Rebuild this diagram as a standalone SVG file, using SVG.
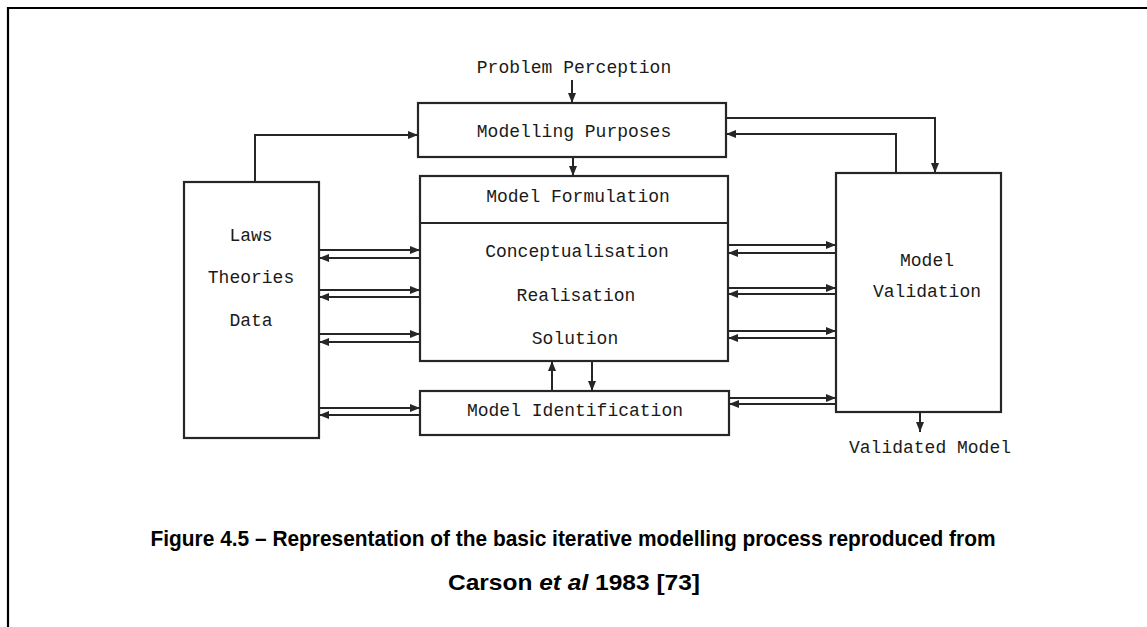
<svg xmlns="http://www.w3.org/2000/svg" width="1147" height="627" viewBox="0 0 1147 627">
  <defs>
    <marker id="arrow" markerUnits="userSpaceOnUse" markerWidth="11" markerHeight="9" refX="10" refY="4" orient="auto">
      <path d="M0,0 L10,4 L0,8 z" fill="#262626"/>
    </marker>
    <style>
      .box { fill: #ffffff; stroke: #262626; stroke-width: 2.2; }
      .line { fill: none; stroke: #262626; stroke-width: 2; }
      .arr { fill: none; stroke: #262626; stroke-width: 2; marker-end: url(#arrow); }
      .lbl { font-family: "Liberation Mono", "Courier New", monospace; font-size: 18px; fill: #1a1a1a; text-anchor: middle; dominant-baseline: central; }
      .cap { font-family: "Liberation Sans", Arial, sans-serif; font-weight: bold; font-size: 22px; fill: #000000; text-anchor: middle; }
    </style>
  </defs>

  <rect width="1147" height="627" fill="#ffffff"/>

  <!-- page frame -->
  <path d="M8,627 V8 H1147" fill="none" stroke="#000000" stroke-width="2.2"/>

  <!-- input label -->
  <text class="lbl" x="574" y="68">Problem Perception</text>

  <g id="modelling-purposes">
    <rect class="box" x="418" y="103" width="308" height="54"/>
    <text class="lbl" x="574" y="132">Modelling Purposes</text>
  </g>

  <g id="laws-theories-data">
    <rect class="box" x="184" y="182" width="135" height="256"/>
    <text class="lbl" x="251" y="236">Laws</text>
    <text class="lbl" x="251" y="278">Theories</text>
    <text class="lbl" x="251" y="321">Data</text>
  </g>

  <g id="model-formulation">
    <rect class="box" x="420" y="176" width="308" height="185"/>
    <line class="line" x1="420" y1="223" x2="728" y2="223"/>
    <text class="lbl" x="578" y="197">Model Formulation</text>
    <text class="lbl" x="577" y="252">Conceptualisation</text>
    <text class="lbl" x="576" y="296">Realisation</text>
    <text class="lbl" x="575" y="339">Solution</text>
  </g>

  <g id="model-identification">
    <rect class="box" x="420" y="391" width="309" height="44"/>
    <text class="lbl" x="575" y="411">Model Identification</text>
  </g>

  <g id="model-validation">
    <rect class="box" x="836" y="173" width="165" height="239"/>
    <text class="lbl" x="927" y="261">Model</text>
    <text class="lbl" x="927" y="292">Validation</text>
  </g>

  <!-- output label -->
  <text class="lbl" x="930" y="448">Validated Model</text>

  <g id="connectors">
    <!-- problem perception into purposes -->
    <line class="arr" x1="572" y1="80" x2="572" y2="103"/>
    <!-- purposes into formulation -->
    <line class="arr" x1="573" y1="157" x2="573" y2="176"/>
    <!-- laws back up to purposes -->
    <polyline class="arr" points="255,182 255,135 418,135"/>
    <!-- purposes to validation -->
    <polyline class="arr" points="726,118 935,118 935,173"/>
    <!-- validation feedback to purposes -->
    <polyline class="arr" points="896,173 896,134 726,134"/>

    <!-- laws <-> formulation block -->
    <line class="arr" x1="319" y1="250" x2="420" y2="250"/>
    <line class="arr" x1="420" y1="258" x2="319" y2="258"/>
    <line class="arr" x1="319" y1="290" x2="420" y2="290"/>
    <line class="arr" x1="420" y1="297" x2="319" y2="297"/>
    <line class="arr" x1="319" y1="334" x2="420" y2="334"/>
    <line class="arr" x1="420" y1="342" x2="319" y2="342"/>
    <!-- laws <-> identification -->
    <line class="arr" x1="319" y1="408" x2="420" y2="408"/>
    <line class="arr" x1="420" y1="415" x2="319" y2="415"/>

    <!-- formulation block <-> validation -->
    <line class="arr" x1="728" y1="245" x2="836" y2="245"/>
    <line class="arr" x1="836" y1="253" x2="728" y2="253"/>
    <line class="arr" x1="728" y1="288" x2="836" y2="288"/>
    <line class="arr" x1="836" y1="294" x2="728" y2="294"/>
    <line class="arr" x1="728" y1="331" x2="836" y2="331"/>
    <line class="arr" x1="836" y1="338" x2="728" y2="338"/>
    <!-- identification <-> validation -->
    <line class="arr" x1="729" y1="398" x2="836" y2="398"/>
    <line class="arr" x1="836" y1="404" x2="729" y2="404"/>

    <!-- formulation <-> identification -->
    <line class="arr" x1="552" y1="391" x2="552" y2="361"/>
    <line class="arr" x1="592" y1="361" x2="592" y2="391"/>

    <!-- validated output -->
    <line class="arr" x1="920" y1="412" x2="920" y2="432"/>
  </g>

  <!-- caption -->
  <text class="cap" x="573" y="546" textLength="845" lengthAdjust="spacingAndGlyphs">Figure 4.5 – Representation of the basic iterative modelling process reproduced from</text>
  <text class="cap" x="574" y="590" textLength="252" lengthAdjust="spacingAndGlyphs">Carson <tspan font-style="italic">et al</tspan> 1983 [73]</text>
</svg>
